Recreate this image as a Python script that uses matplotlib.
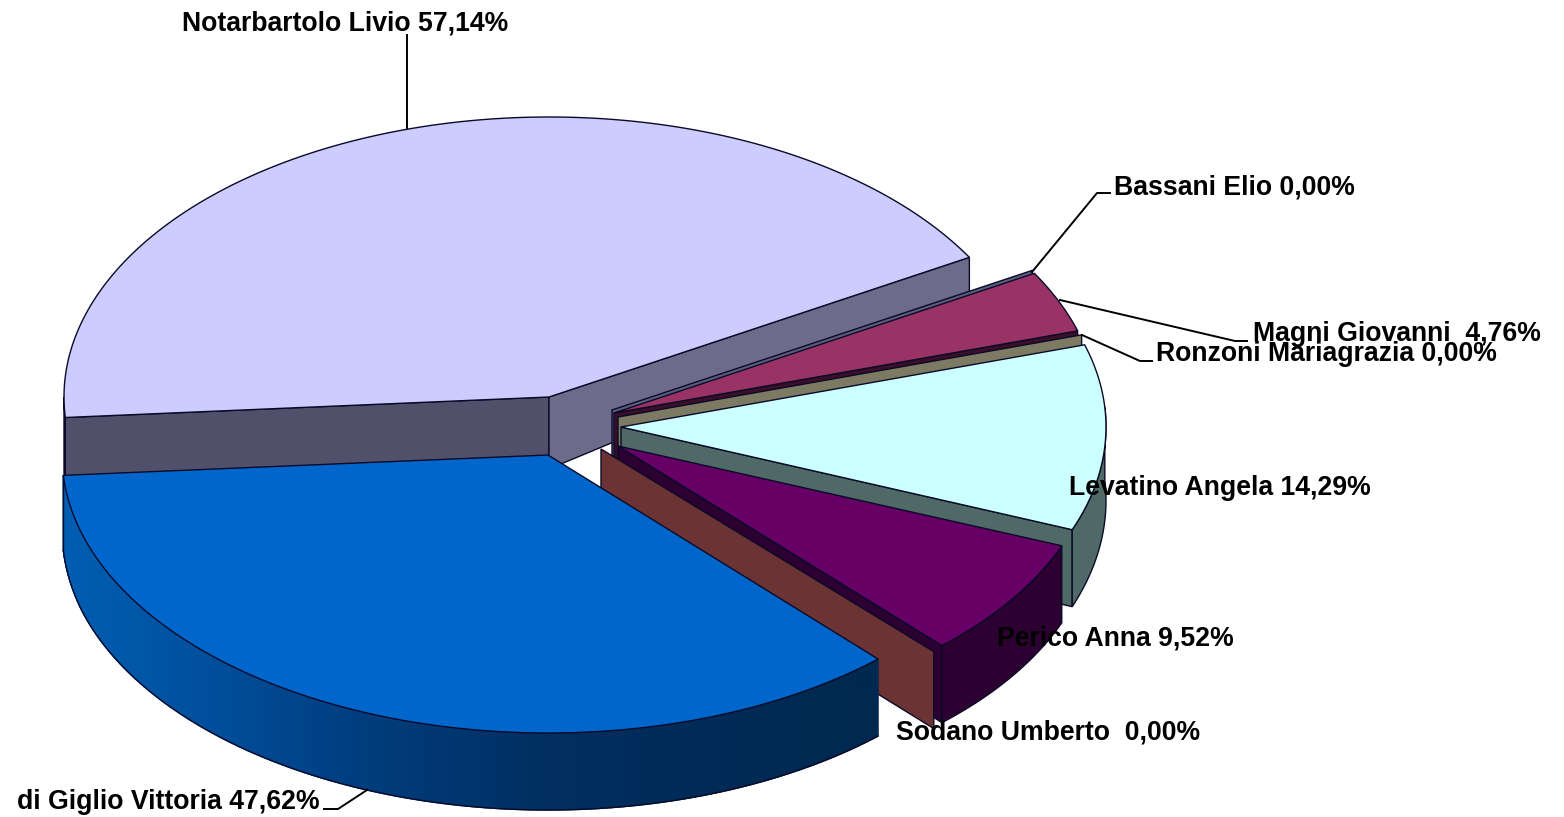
import matplotlib
matplotlib.use('Agg')
import matplotlib.pyplot as plt
import numpy as np

names = ['Notarbartolo Livio', 'Bassani Elio', 'Magni Giovanni ', 'Ronzoni Mariagrazia',
         'Levatino Angela', 'Perico Anna', 'Sodano Umberto ', 'di Giglio Vittoria']
values = [57.14, 0.00, 4.76, 0.00, 14.29, 9.52, 0.00, 47.62]
pct_labels = ['57,14%', '0,00%', '4,76%', '0,00%', '14,29%', '9,52%', '0,00%', '47,62%']

top_colors = ['#CCCCFF', '#666688', '#993366', '#7D7A63', '#CCFFFF', '#660066', '#6B3333', '#0066CC']
face_colors = ['#6C6C8A', '#5C5C80', '#3A0F28', '#7D7A63', '#4F6966', '#2C0030', '#6B3333', None]
wall_colors = ['#50506A', None, None, None, '#4F6966', '#2C0030', None, 'grad']

# exploded slice centres in pixels
cx = [549, 612, 614, 618, 621, 618, 601, 548]
cy = [397, 410, 413, 417, 427, 446, 449, 455]
rx = [485, 485, 485, 485, 485, 477, 490, 486]
ry = [280, 280, 280, 280, 280, 272, 276, 278]

label_pos = [(182, 23), (1114, 187), (1253, 334), (1156, 354), (1069, 488), (997, 639), (896, 732), (17, 802)]
leaders = [[(407, 128), (407, 35)],
           [(1032, 272), (1097, 193), (1110, 193)],
           [(1060, 300), (1235, 341), (1247, 341)],
           [(1082, 335), (1140, 361), (1152, 361)],
           [(367, 790), (338, 809), (324, 809)]]

EDGE = '#0A0A28'
START = 184.2

fig = plt.figure(figsize=(15.64, 8.17), dpi=100)
ax = fig.add_axes([0, 0, 1, 1])
ax.set_xlim(0, 1564)
ax.set_ylim(817, 0)
ax.axis('off')


def depth(y):
    # side walls get taller towards the viewer
    return np.interp(y, [257, 397, 530, 810], [36, 72, 77, 77])


def point(i, t):
    a = np.radians(t)
    return cx[i] + rx[i] * np.cos(a), cy[i] - ry[i] * np.sin(a)


def grad_color(x):
    xs = [60, 200, 350, 550, 750, 880]
    g = np.interp(x, xs, [94, 80, 62, 46, 42, 40])
    b = np.interp(x, xs, [178, 158, 128, 96, 84, 80])
    return (0, g / 255, b / 255)


def draw_wall(i, t0, t1, color):
    ts = np.linspace(t0, t1, 400)
    x, y = point(i, ts)
    yb = y + depth(y)
    if color == 'grad':
        for k in range(len(ts) - 1):
            c = grad_color(x[k])
            ax.fill([x[k], x[k + 1], x[k + 1], x[k]], [y[k], y[k + 1], yb[k + 1], yb[k]],
                    facecolor=c, edgecolor=c, lw=1.0)
        ax.plot(x, yb, color=EDGE, lw=1)
        ax.plot([x[-1], x[-1]], [y[-1], yb[-1]], color=EDGE, lw=1)
    else:
        ax.fill(np.r_[x, x[::-1]], np.r_[y, yb[::-1]], facecolor=color, edgecolor=EDGE, lw=1)


def draw_face(i, t, color):
    x0, y0 = cx[i], cy[i]
    x1, y1 = point(i, t)
    ax.fill([x0, x1, x1, x0], [y0, y1, y1 + depth(y1), y0 + depth(y0)],
            facecolor=color, edgecolor=EDGE, lw=1)


angles = START - np.r_[0, np.cumsum(values)] / sum(values) * 360

for i in range(len(values)):
    t0, t1 = angles[i], angles[i + 1]
    # the left cut of the first slice faces the viewer as well
    if i == 0:
        draw_face(i, t0, wall_colors[i])
    if face_colors[i] is not None:
        draw_face(i, t1, face_colors[i])
    if wall_colors[i] is not None:
        if t0 > 180 and t1 < 180 and t1 > 0:
            draw_wall(i, t0, 180, wall_colors[i])
        elif t0 > 180:
            draw_wall(i, 180, t1, wall_colors[i])
        else:
            draw_wall(i, min(t0, 4), t1, wall_colors[i])
    if values[i] > 0:
        ts = np.linspace(t0, t1, 200)
        x, y = point(i, ts)
        ax.fill(np.r_[cx[i], x], np.r_[cy[i], y], facecolor=top_colors[i], edgecolor=EDGE, lw=1)

for pts in leaders:
    ax.plot([p[0] for p in pts], [p[1] for p in pts], color='black', lw=1.4)

for name, pct, (lx, ly) in zip(names, pct_labels, label_pos):
    ax.text(lx, ly, name + ' ' + pct, family='Liberation Sans', weight='bold', fontsize=19.2,
            color='black', ha='left', va='center')

fig.savefig('out.png', dpi=100, facecolor='white')
